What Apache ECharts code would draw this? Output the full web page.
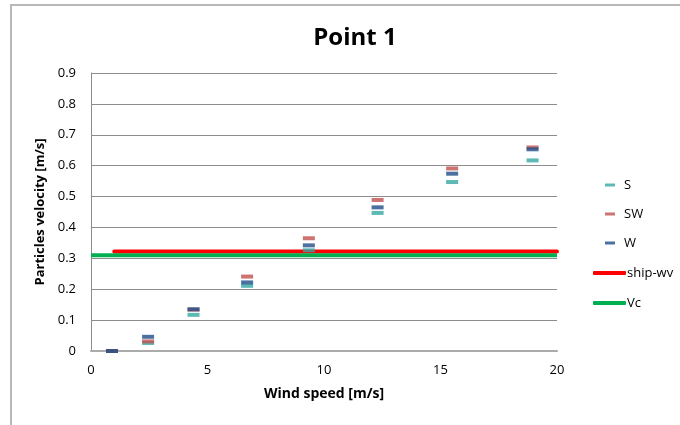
<!DOCTYPE html>
<html>
<head>
<meta charset="utf-8">
<script src="https://cdn.jsdelivr.net/npm/echarts@6/dist/echarts.min.js"></script>
<style>
  html, body { margin: 0; padding: 0; background: #fff; }
  #chart { width: 680px; height: 425px; }
</style>
</head>
<body>
<div id="chart"></div>
<script>
// Wind speed classes (Beaufort mid-values), m/s
const windSpeed = [0.9, 2.45, 4.4, 6.7, 9.35, 12.3, 15.5, 18.95];
// Particle velocity per wind direction, m/s
const velS  = [0, 0.026, 0.117, 0.211, 0.326, 0.447, 0.547, 0.617];
const velSW = [0, 0.031, 0.134, 0.241, 0.365, 0.489, 0.591, 0.659];
const velW  = [0, 0.046, 0.135, 0.222, 0.342, 0.465, 0.574, 0.653];
// Reference levels
const shipWvX = [1, 20];
const shipWv = 0.322;
const vcX = [0, 20];
const vc = 0.31;
const seriesNames = ['S', 'SW', 'W'];
const lineNames = ['ship-wv', 'Vc'];

const FONT = '"Open Sans", Lato, sans-serif';

function pairs(xs, ys) { return xs.map((x, i) => [x, ys[i]]); }

const dashSeries = (name, vals, color) => ({
  name: name,
  type: 'scatter',
  data: pairs(windSpeed, vals),
  symbol: 'rect',
  symbolSize: [12, 4],
  itemStyle: { color: color },
  z: 3
});

const chart = echarts.init(document.getElementById('chart'), null, { renderer: 'canvas' });
chart.setOption({
  animation: false,
  backgroundColor: '#fff',
  graphic: [{
    type: 'rect',
    shape: { x: 11, y: 5, width: 720, height: 480 },
    style: { fill: 'none', stroke: '#b8b8b8', lineWidth: 2 },
    silent: true
  }],
  title: {
    text: 'Point 1',
    left: 350,
    textAlign: 'center',
    top: 21,
    textStyle: { fontFamily: FONT, fontSize: 24, fontWeight: 'bold', color: '#000' }
  },
  grid: { left: 91, right: 123, top: 73, bottom: 74 },
  legend: [{
    data: seriesNames,
    orient: 'vertical',
    left: 600,
    top: 173,
    itemWidth: 10,
    itemHeight: 3,
    itemGap: 15,
    icon: 'rect',
    textStyle: { fontFamily: FONT, fontSize: 13, color: '#000', lineHeight: 14, padding: [0, 0, 0, 4] }
  }, {
    data: lineNames,
    orient: 'vertical',
    left: 588,
    top: 261,
    itemWidth: 33,
    itemHeight: 4,
    itemGap: 16,
    icon: 'roundRect',
    textStyle: { fontFamily: FONT, fontSize: 13, color: '#000', lineHeight: 14, padding: [0, 0, 0, -4] }
  }],
  xAxis: {
    type: 'value',
    min: 0, max: 20, interval: 5,
    name: 'Wind speed [m/s]',
    nameLocation: 'middle',
    nameGap: 36,
    nameTextStyle: { fontFamily: FONT, fontSize: 14, fontWeight: 'bold', color: '#000' },
    axisLine: { show: true, lineStyle: { color: '#ababab', width: 2 } },
    axisTick: { show: false },
    splitLine: { show: false },
    axisLabel: { fontFamily: FONT, fontSize: 13, color: '#000', margin: 13 }
  },
  yAxis: {
    type: 'value',
    min: 0, max: 0.9, interval: 0.1,
    name: 'Particles velocity [m/s]',
    nameLocation: 'middle',
    nameGap: 43,
    nameTextStyle: { fontFamily: FONT, fontSize: 13, fontWeight: 'bold', color: '#000' },
    axisLine: { show: true, lineStyle: { color: '#8c8c8c', width: 1 } },
    axisTick: { show: false },
    splitLine: { show: true, lineStyle: { color: '#8c8c8c', width: 1 } },
    axisLabel: {
      fontFamily: FONT, fontSize: 13, color: '#000', margin: 15,
      formatter: v => (v === 0 ? '0' : v.toFixed(1))
    }
  },
  series: [{
    name: 'ship-wv',
    type: 'line',
    data: shipWvX.map(x => [x, shipWv]),
    symbol: 'none',
    lineStyle: { color: '#ff0000', width: 4, cap: 'round' },
    itemStyle: { color: '#ff0000' },
    z: 2
  }, {
    name: 'Vc',
    type: 'line',
    data: vcX.map(x => [x, vc]),
    symbol: 'none',
    lineStyle: { color: '#00b050', width: 4 },
    itemStyle: { color: '#00b050' },
    z: 2
  },
    dashSeries('S', velS, '#35a7a4'),
    dashSeries('SW', velSW, '#c0504d'),
    dashSeries('W', velW, '#1f4e8a')
  ]
});
</script>
</body>
</html>
